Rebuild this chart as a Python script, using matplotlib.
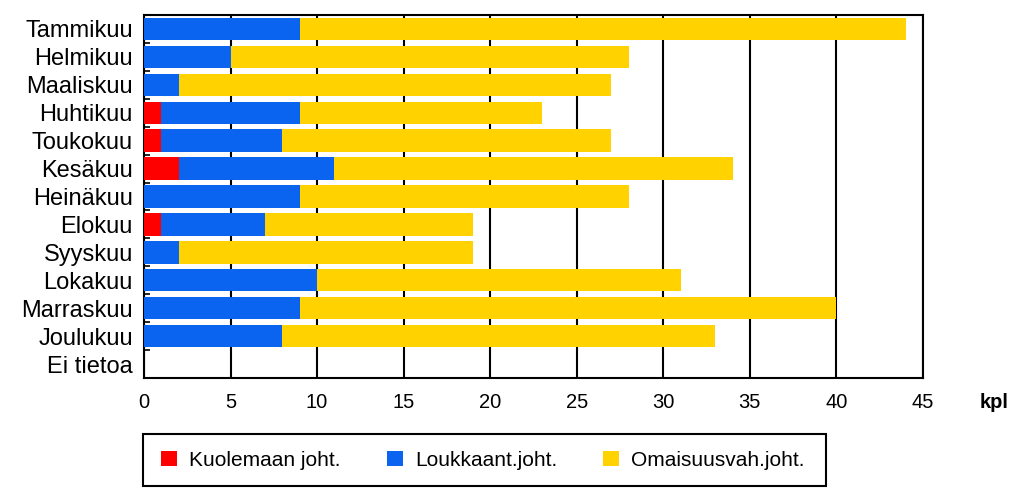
import matplotlib
matplotlib.use("Agg")
import matplotlib.pyplot as plt
import numpy as np
from matplotlib.patches import Patch, Rectangle

plt.rcParams['font.family'] = ['Liberation Sans', 'DejaVu Sans']

months = ["Tammikuu", "Helmikuu", "Maaliskuu", "Huhtikuu", "Toukokuu", "Kesäkuu",
          "Heinäkuu", "Elokuu", "Syyskuu", "Lokakuu", "Marraskuu", "Joulukuu", "Ei tietoa"]
kuolemaan = [0, 0, 0, 1, 1, 2, 0, 1, 0, 0, 0, 0, 0]
loukkaant = [9, 5, 2, 8, 7, 9, 9, 6, 2, 10, 9, 8, 0]
omaisuus = [35, 23, 25, 14, 19, 23, 19, 12, 17, 21, 31, 25, 0]
series_names = ["Kuolemaan joht.", "Loukkaant.joht.", "Omaisuusvah.joht."]
colors = ["#FF0000", "#0A64F0", "#FFD200"]
xticks = [0, 5, 10, 15, 20, 25, 30, 35, 40, 45]

fig = plt.figure(figsize=(10.24, 5.03), dpi=100)
ax = fig.add_axes([0.1406, 0.2485, 0.7607, 0.7217])

y = np.arange(len(months))
k = np.array(kuolemaan); l = np.array(loukkaant); o = np.array(omaisuus)
ax.barh(y, k, height=0.8, color=colors[0], zorder=3)
ax.barh(y, l, left=k, height=0.8, color=colors[1], zorder=3)
ax.barh(y, o, left=k + l, height=0.8, color=colors[2], zorder=3)

ax.set_xlim(0, 45)
ax.set_ylim(len(months) - 0.5, -0.5)
ax.set_xticks(xticks)
ax.set_xticklabels([str(t) for t in xticks], fontsize=14.5)
ax.set_yticks(y)
ax.set_yticklabels(months, fontsize=17)
ax.set_yticks(np.arange(len(months) + 1) - 0.5, minor=True)
ax.tick_params(axis='y', which='major', length=0, pad=8)
ax.tick_params(axis='y', which='minor', length=4, direction='in', width=1.2)
ax.tick_params(axis='x', which='major', length=0, pad=11)
ax.xaxis.grid(True, color='black', linewidth=1.5, zorder=1)
for s in ax.spines.values():
    s.set_linewidth(1.5)
    s.set_color('black')

fig.text(0.9707, 0.1998, "kpl", fontsize=14.5, fontweight='bold', ha='center', va='center')

# legend frame drawn as a figure rectangle
W, H = 1024, 503
frame = Rectangle((143 / W, 1 - 486 / H), (826 - 143) / W, (486 - 434) / H,
                  transform=fig.transFigure, facecolor='white', edgecolor='black',
                  linewidth=1.5, zorder=0)
fig.patches.append(frame)

handles = [Patch(facecolor=c, edgecolor='none') for c in colors]
leg = fig.legend(handles, series_names, loc='center left',
                 bbox_to_anchor=(161 / W, 1 - 460 / H), borderaxespad=0, ncol=3, fontsize=15,
                 frameon=False, handlelength=0.76, handleheight=0.76, handletextpad=0.6,
                 columnspacing=2.2, borderpad=0)

fig.savefig("out.png", dpi=100)
